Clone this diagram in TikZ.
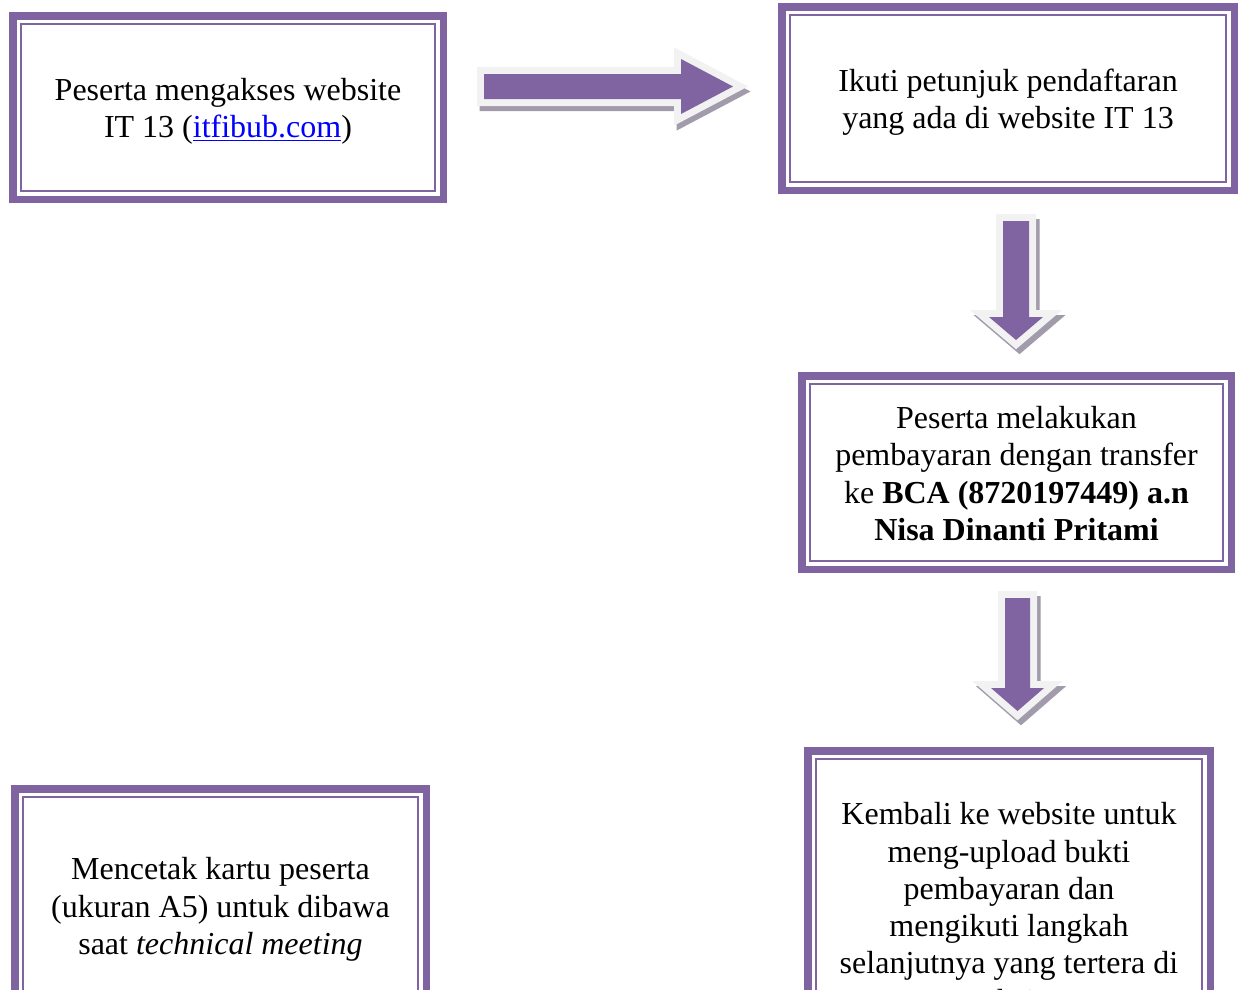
\documentclass[tikz,border=0pt]{standalone}
\usepackage{fontspec}
\setmainfont{Liberation Serif}
\definecolor{purp}{HTML}{8064A2}
\definecolor{edge}{HTML}{F2F2F2}
\definecolor{shd}{HTML}{A19BAB}
\definecolor{lnkblue}{HTML}{0000FF}
\newcommand\mylnk[1]{{\color{lnkblue}\setbox0\hbox{#1}\rlap{\rule[-3.5pt]{\wd0}{1.6pt}}\box0}}
\tikzset{
  frame/.style={draw=purp, line width=7.5, fill=white, outer sep=0pt, inner sep=0pt},
  txt/.style={inner sep=0pt, align=center, font=\fontsize{32}{37.3}\selectfont},
  thinframe/.style={draw=purp, line width=2.2},
  arrshadow/.style={fill=shd, draw=shd, line width=14, line join=miter},
  arredge/.style={fill=edge, draw=edge, line width=14, line join=miter},
  arrbody/.style={fill=purp}
}
\begin{document}
\begin{tikzpicture}[x=1pt,y=-1pt]
\useasboundingbox (0,0) rectangle (1239,989);
\clip (0,0) rectangle (1239,989);
\fill[white] (0,0) rectangle (1239,989);

\node[frame, minimum width=430.5, minimum height=183.5] (b1) at (228,107.5) {};
\node[frame, minimum width=452.5, minimum height=183.5] (b2) at (1008,98.5) {};
\node[frame, minimum width=429.5, minimum height=193.5] (b3) at (1016.5,472.5) {};
\node[frame, minimum width=402.5, minimum height=310.5] (b4) at (1009,906) {};
\node[frame, minimum width=411.5, minimum height=233.5] (b5) at (220.5,905.5) {};

\foreach \b in {b1,b2,b3,b4,b5}
  \draw[thinframe] ([shift={(8,8)}]\b.north west) rectangle ([shift={(-8,-8)}]\b.south east);

\node[txt] (t1) at ([yshift=-4pt]b1.center)
  {Peserta mengakses website\\IT 13 (\mylnk{itfibub.com})};
\node[txt] (t2) at ([yshift=-4pt]b2.center)
  {Ikuti petunjuk pendaftaran\\yang ada di website IT 13};
\node[txt] (t3) at ([yshift=-1pt]b3.center)
  {Peserta melakukan\\pembayaran dengan transfer\\ke \textbf{BCA (8720197449) a.n}\\\textbf{Nisa Dinanti Pritami}};
\node[txt] (t4) at ([yshift=-1pt]b4.center)
  {Kembali ke website untuk\\meng-upload bukti\\pembayaran dan\\mengikuti langkah\\selanjutnya yang tertera di\\website};
\node[txt] (t5) at ([yshift=-4pt]b5.center)
  {Mencetak kartu peserta\\(ukuran A5) untuk dibawa\\saat \textit{technical meeting}};

% right block arrow b1 -> b2
\filldraw[arrshadow, shift={(2.5,5)}] (484,74) -- (681,74) -- (681,59) -- (733,86.5) -- (681,114) -- (681,99) -- (484,99) -- cycle;
\filldraw[arredge] (484,74) -- (681,74) -- (681,59) -- (733,86.5) -- (681,114) -- (681,99) -- (484,99) -- cycle;
\fill[arrbody] (484,74) -- (681,74) -- (681,59) -- (733,86.5) -- (681,114) -- (681,99) -- (484,99) -- cycle;

% down block arrow b2 -> b3
\filldraw[arrshadow, shift={(3.5,5)}] (1003,221) -- (1029,221) -- (1029,317) -- (1043,317) -- (1016,340) -- (989,317) -- (1003,317) -- cycle;
\filldraw[arredge] (1003,221) -- (1029,221) -- (1029,317) -- (1043,317) -- (1016,340) -- (989,317) -- (1003,317) -- cycle;
\fill[arrbody] (1003,221) -- (1029,221) -- (1029,317) -- (1043,317) -- (1016,340) -- (989,317) -- (1003,317) -- cycle;

% down block arrow b3 -> b4
\filldraw[arrshadow, shift={(3.5,5)}] (1005,598) -- (1030,598) -- (1030,688) -- (1044,688) -- (1017.5,711) -- (991,688) -- (1005,688) -- cycle;
\filldraw[arredge] (1005,598) -- (1030,598) -- (1030,688) -- (1044,688) -- (1017.5,711) -- (991,688) -- (1005,688) -- cycle;
\fill[arrbody] (1005,598) -- (1030,598) -- (1030,688) -- (1044,688) -- (1017.5,711) -- (991,688) -- (1005,688) -- cycle;
\end{tikzpicture}
\end{document}
